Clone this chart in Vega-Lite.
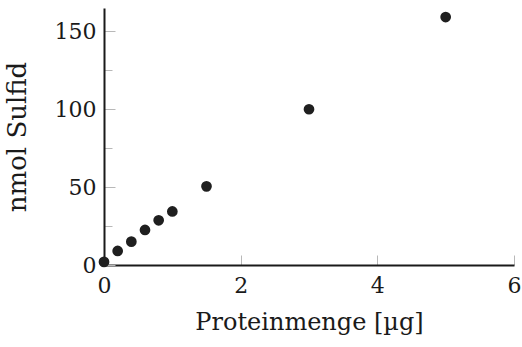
{
  "$schema": "https://vega.github.io/schema/vega-lite/v6.json",
  "width": 410,
  "height": 257,
  "autosize": {"type": "none"},
  "padding": {"left": 104, "top": 8, "right": 8, "bottom": 82},
  "background": "white",
  "config": {
    "view": {"stroke": null}
  },
  "data": {
    "values": [
      {"protein": 0, "sulfid": 2},
      {"protein": 0.2, "sulfid": 9},
      {"protein": 0.4, "sulfid": 15},
      {"protein": 0.6, "sulfid": 22.5},
      {"protein": 0.8, "sulfid": 28.7},
      {"protein": 1.0, "sulfid": 34.4},
      {"protein": 1.5, "sulfid": 50.5},
      {"protein": 3, "sulfid": 100},
      {"protein": 5, "sulfid": 159.2}
    ]
  },
  "mark": {"type": "point", "filled": true, "shape": "circle", "size": 115, "color": "#1f1f1f", "opacity": 1, "clip": false},
  "encoding": {
    "x": {
      "field": "protein",
      "type": "quantitative",
      "title": "Proteinmenge [µg]",
      "scale": {"domain": [0, 6], "nice": false, "zero": false},
      "axis": {
        "values": [0, 2, 4, 6],
        "grid": false,
        "domainColor": "#1a1a1a",
        "domainWidth": 2,
        "tickColor": "#b8b8b8",
        "tickWidth": 1,
        "tickSize": -10,
        "labelPadding": 20,
        "labelFont": "DejaVu Serif",
        "labelFontSize": 22,
        "labelColor": "#1a1a1a",
        "labelFlush": false,
        "titleFont": "DejaVu Serif",
        "titleFontSize": 24,
        "titleFontWeight": "normal",
        "titleColor": "#1a1a1a",
        "titlePadding": 14
      }
    },
    "y": {
      "field": "sulfid",
      "type": "quantitative",
      "title": "nmol Sulfid",
      "scale": {"domain": [0, 165], "nice": false, "zero": false},
      "axis": {
        "values": [0, 25, 50, 75, 100, 125, 150],
        "labelExpr": "datum.value % 50 === 0 ? datum.label : ''",
        "grid": false,
        "domainColor": "#1a1a1a",
        "domainWidth": 2,
        "tickColor": "#b8b8b8",
        "tickWidth": 1,
        "tickSize": {"condition": {"test": "datum.value % 50 === 0", "value": -11}, "value": -8},
        "labelPadding": 19,
        "labelFont": "DejaVu Serif",
        "labelFontSize": 22,
        "labelColor": "#1a1a1a",
        "labelFlush": false,
        "titleFont": "DejaVu Serif",
        "titleFontSize": 26,
        "titleFontWeight": "normal",
        "titleColor": "#1a1a1a",
        "titlePadding": 24
      }
    }
  }
}
